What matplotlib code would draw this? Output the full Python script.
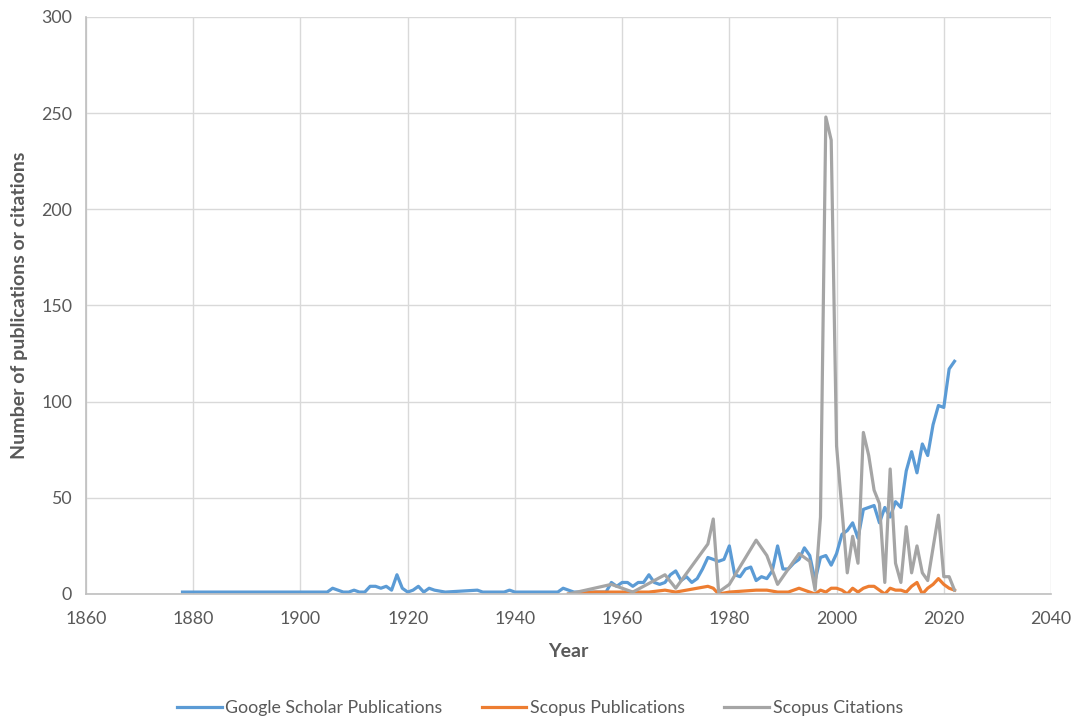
import matplotlib.pyplot as plt

# Google Scholar publications per year
gs_years = [1878, 1905, 1906, 1907, 1908, 1909, 1910, 1911, 1912, 1913, 1914, 1915, 1916, 1917,
            1918, 1919, 1920, 1921, 1922, 1923, 1924, 1925, 1927, 1933, 1934, 1938, 1939, 1940,
            1948, 1949, 1950, 1951, 1957, 1958, 1959, 1960, 1961, 1962, 1963, 1964, 1965, 1966,
            1967, 1968, 1969, 1970, 1971, 1972, 1973, 1974, 1975, 1976, 1977, 1978, 1979, 1980,
            1981, 1982, 1983, 1984, 1985, 1986, 1987, 1988, 1989, 1990, 1991, 1992, 1993, 1994,
            1995, 1996, 1997, 1998, 1999, 2000, 2001, 2002, 2003, 2004, 2005, 2006, 2007, 2008,
            2009, 2010, 2011, 2012, 2013, 2014, 2015, 2016, 2017, 2018, 2019, 2020, 2021, 2022]
gs_pubs = [1, 1, 3, 2, 1, 1, 2, 1, 1, 4, 4, 3, 4, 2,
           10, 3, 1, 2, 4, 1, 3, 2, 1, 2, 1, 1, 2, 1,
           1, 3, 2, 1, 1, 6, 4, 6, 6, 4, 6, 6, 10, 6,
           5, 6, 10, 12, 7, 9, 6, 8, 13, 19, 18, 17, 18, 25,
           10, 9, 13, 14, 7, 9, 8, 12, 25, 13, 13, 16, 18, 24,
           20, 7, 19, 20, 15, 21, 31, 33, 37, 29, 44, 45, 46, 37,
           45, 40, 48, 45, 64, 74, 63, 78, 72, 88, 98, 97, 117, 121]

# Scopus publications
sp_years = [1950, 1955, 1960, 1965, 1968, 1970, 1974, 1976, 1977, 1978, 1980, 1985, 1987, 1989,
            1991, 1993, 1995, 1996, 1997, 1998, 1999, 2000, 2001, 2002, 2003, 2004, 2005, 2006,
            2007, 2008, 2009, 2010, 2011, 2012, 2013, 2014, 2015, 2016, 2017, 2018, 2019, 2020,
            2021, 2022]
sp_pubs = [0, 1, 1, 1, 2, 1, 3, 4, 3, 0, 1, 2, 2, 1,
           1, 3, 1, 0, 2, 1, 3, 3, 2, 0, 3, 1, 3, 4,
           4, 2, 0, 3, 2, 2, 1, 4, 6, 0, 3, 5, 8, 5,
           3, 2]

# Scopus citations
sc_years = [1950, 1958, 1962, 1968, 1970, 1976, 1977, 1978, 1980, 1985, 1987, 1989, 1993, 1995,
            1996, 1997, 1998, 1999, 2000, 2001, 2002, 2003, 2004, 2005, 2006, 2007, 2008, 2009,
            2010, 2011, 2012, 2013, 2014, 2015, 2016, 2017, 2019, 2020, 2021, 2022]
sc_cites = [0, 5, 1, 10, 3, 26, 39, 1, 5, 28, 20, 5, 21, 17,
            2, 40, 248, 236, 77, 44, 11, 30, 16, 84, 72, 54, 47, 6,
            65, 16, 6, 35, 11, 25, 11, 7, 41, 9, 9, 2]

plt.rcParams['font.family'] = ['Lato', 'DejaVu Sans']
txt = '#595959'

fig = plt.figure(figsize=(10.77, 7.19), dpi=100)
ax = fig.add_axes([86 / 1077, 1 - 594 / 719, (1051 - 86) / 1077, (594 - 17) / 719])

ax.plot(gs_years, gs_pubs, color='#5B9BD5', lw=2.3, label='Google Scholar Publications')
ax.plot(sp_years, sp_pubs, color='#ED7D31', lw=2.3, label='Scopus Publications')
ax.plot(sc_years, sc_cites, color='#A5A5A5', lw=2.3, label='Scopus Citations')

ax.set_xlim(1860, 2040)
ax.set_ylim(0, 300)
ax.set_xticks(range(1860, 2041, 20))
ax.set_yticks(range(0, 301, 50))
ax.grid(True, color='#D9D9D9', lw=1)
ax.set_axisbelow(True)
for s in ['top', 'right']:
    ax.spines[s].set_visible(False)
for s in ['left', 'bottom']:
    ax.spines[s].set_color('#BFBFBF')
    ax.spines[s].set_linewidth(1.2)
ax.tick_params(length=0, labelsize=12.8, colors=txt, pad=10)
ax.tick_params(axis='x', pad=12)

ax.set_xlabel('Year', fontsize=14, fontweight='bold', color=txt)
ax.xaxis.set_label_coords(0.5, (594 - 643) / 577)
ax.set_ylabel('Number of publications or citations', fontsize=14, fontweight='bold', color=txt)
ax.yaxis.set_label_coords((28 - 86) / 965, 0.5)

fig.legend(loc='center', bbox_to_anchor=(540 / 1077, 1 - 708 / 719), ncol=3, frameon=False,
           fontsize=12.8, labelcolor=txt, handlelength=2.5, handletextpad=0.22, columnspacing=2.2)

fig.savefig('out.png', dpi=100)
